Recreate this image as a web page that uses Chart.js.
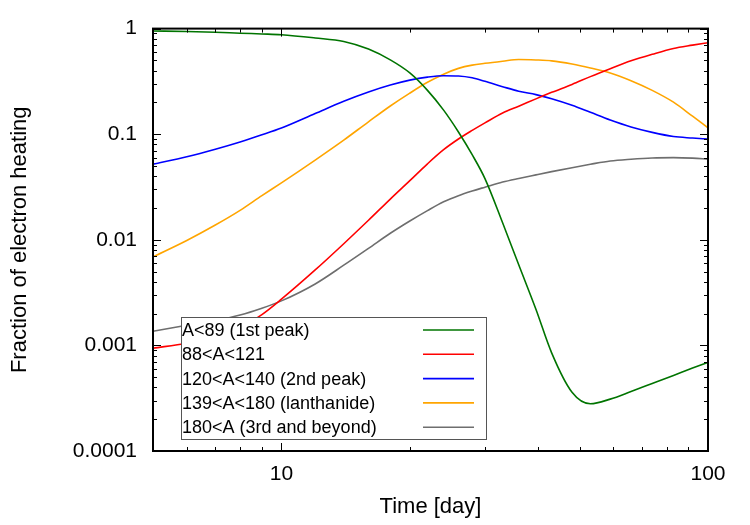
<!DOCTYPE html>
<html>
<head>
<meta charset="utf-8">
<script src="https://cdn.jsdelivr.net/npm/chart.js@4.4.1/dist/chart.umd.min.js"></script>
<style>
html,body{margin:0;padding:0;background:#fff;}
#wrap{width:750px;height:525px;}
</style>
</head>
<body>
<div id="wrap"><canvas id="c" width="750" height="525"></canvas></div>
<script>
// ---- data ----
const days = [5,6,7,8,9,10,12,14,16,18,20,22,24,26,28,30,33,36,39.5,43,48,53,59,66,74,83,92,100];

const peak1 = [0.95,0.94,0.925,0.905,0.89,0.875,0.815,0.755,0.64,0.505,0.38,0.26,0.169,0.105,0.064,0.038,0.0145,0.0058,0.0022,0.00085,0.00036,0.00028,0.00031,0.000366,0.000436,0.00052,0.00061,0.00069];
const mid88 = [0.00094,0.00105,0.00122,0.00148,0.00196,0.00274,0.00518,0.00918,0.0153,0.0243,0.0363,0.0524,0.0713,0.09,0.1086,0.128,0.159,0.184,0.216,0.249,0.296,0.351,0.417,0.495,0.571,0.649,0.697,0.735];
const peak2 = [0.052,0.0612,0.0721,0.0845,0.0987,0.1145,0.157,0.205,0.251,0.292,0.325,0.347,0.358,0.356,0.342,0.317,0.282,0.255,0.237,0.217,0.188,0.161,0.136,0.117,0.104,0.095,0.092,0.09];
const lanth = [0.0069,0.00986,0.0138,0.019,0.0262,0.0346,0.0569,0.0879,0.131,0.185,0.245,0.31,0.37,0.42,0.451,0.469,0.491,0.51,0.505,0.495,0.462,0.424,0.38,0.321,0.26,0.201,0.148,0.115];
const peak3 = [0.00136,0.00155,0.00172,0.00194,0.00225,0.00264,0.00382,0.00575,0.0083,0.01153,0.01507,0.0189,0.0229,0.0262,0.029,0.0315,0.0352,0.0381,0.0412,0.0442,0.0482,0.0519,0.0558,0.058,0.0596,0.06,0.0593,0.058];

const seriesNames  = ['A<89 (1st peak)','88<A<121','120<A<140 (2nd peak)','139<A<180 (lanthanide)','180<A (3rd and beyond)'];
const seriesColors = ['#007400','#ff0000','#0000ff','#ffa500','#6e6e6e'];
const seriesValues = [peak1, mid88, peak2, lanth, peak3];

const xTickValues = [10, 100];
const xTickLabels = ['10', '100'];
const yTickValues = [0.0001, 0.001, 0.01, 0.1, 1];
const yTickLabels = ['0.0001', '0.001', '0.01', '0.1', '1'];

const FONT = "'Liberation Sans', Arial, Helvetica, sans-serif";

// ---- plugins: inward tick marks, frame, opaque key ----
const framePlugin = {
  id: 'frame',
  afterDatasetsDraw(chart) {
    const {ctx, chartArea: a, scales: {x, y}} = chart;
    ctx.save();
    ctx.strokeStyle = '#000';
    ctx.lineWidth = 1;
    ctx.beginPath();
    for (let e = 0; e <= 2; e++) {
      for (let m = 1; m <= 9; m++) {
        const v = m * Math.pow(10, e);
        if (v < x.min || v > x.max) continue;
        const px = Math.round(x.getPixelForValue(v)) + 0.5;
        const len = m === 1 ? 8 : 4;
        ctx.moveTo(px, a.bottom); ctx.lineTo(px, a.bottom - len);
        ctx.moveTo(px, a.top); ctx.lineTo(px, a.top + len);
      }
    }
    for (let e = -4; e <= 0; e++) {
      for (let m = 1; m <= 9; m++) {
        const v = m * Math.pow(10, e);
        if (v < y.min * 0.999 || v > y.max * 1.001) continue;
        const py = Math.round(y.getPixelForValue(v)) + 0.5;
        const len = m === 1 ? 8 : 4;
        ctx.moveTo(a.left, py); ctx.lineTo(a.left + len, py);
        ctx.moveTo(a.right, py); ctx.lineTo(a.right - len, py);
      }
    }
    ctx.stroke();
    ctx.lineWidth = 2;
    ctx.strokeRect(a.left, a.top, a.right - a.left, a.bottom - a.top);
    ctx.restore();

    // key box
    const bx = 181, by = 317, bw = 305, bh = 122;
    ctx.save();
    ctx.fillStyle = '#fff';
    ctx.fillRect(bx, by, bw, bh);
    ctx.strokeStyle = '#555';
    ctx.lineWidth = 1;
    ctx.strokeRect(bx + 0.5, by + 0.5, bw, bh);
    ctx.font = '18px ' + FONT;
    ctx.textBaseline = 'middle';
    ctx.textAlign = 'left';
    chart.data.datasets.forEach((ds, i) => {
      const ry = 330 + i * 24.3;
      ctx.fillStyle = '#000';
      ctx.fillText(ds.label, 182, ry + 1);
      ctx.strokeStyle = ds.borderColor;
      ctx.lineWidth = 1.6;
      ctx.beginPath();
      ctx.moveTo(423, ry); ctx.lineTo(474, ry);
      ctx.stroke();
    });
    ctx.restore();
  }
};

const datasets = seriesNames.map((name, i) => ({
  label: name,
  data: seriesValues[i].map((v, j) => ({x: days[j], y: v})),
  borderColor: seriesColors[i],
  backgroundColor: seriesColors[i],
  borderWidth: 1.6,
  pointRadius: 0,
  fill: false,
  cubicInterpolationMode: 'monotone'
}));

new Chart(document.getElementById('c'), {
  type: 'line',
  data: {datasets},
  options: {
    responsive: false,
    animation: false,
    devicePixelRatio: 1,
    layout: {padding: {top: 23, right: 42, left: 0, bottom: 0}},
    plugins: {legend: {display: false}, tooltip: {enabled: false}},
    scales: {
      x: {
        type: 'logarithmic',
        min: 5, max: 100,
        afterBuildTicks: s => { s.ticks = xTickValues.map(v => ({value: v})); },
        afterFit: s => { s.height = 74; },
        ticks: {
          callback: (v, i) => xTickLabels[i],
          font: {family: FONT, size: 21},
          color: '#000',
          padding: 11,
          maxRotation: 0,
          autoSkip: false
        },
        grid: {display: false, drawTicks: false},
        border: {display: false},
        title: {
          display: true,
          text: 'Time [day]',
          font: {family: FONT, size: 22},
          color: '#000',
          padding: {top: 0, bottom: 5}
        }
      },
      y: {
        type: 'logarithmic',
        min: 0.0001, max: 1,
        afterBuildTicks: s => { s.ticks = yTickValues.map(v => ({value: v})); },
        afterFit: s => { s.width = 153; },
        ticks: {
          callback: (v, i) => yTickLabels[i],
          font: {family: FONT, size: 21},
          color: '#000',
          padding: 16,
          autoSkip: false
        },
        grid: {display: false, drawTicks: false},
        border: {display: false},
        title: {
          display: true,
          text: 'Fraction of electron heating',
          font: {family: FONT, size: 22},
          color: '#000',
          padding: {top: 7, bottom: 0}
        }
      }
    }
  },
  plugins: [framePlugin]
});
</script>
</body>
</html>
